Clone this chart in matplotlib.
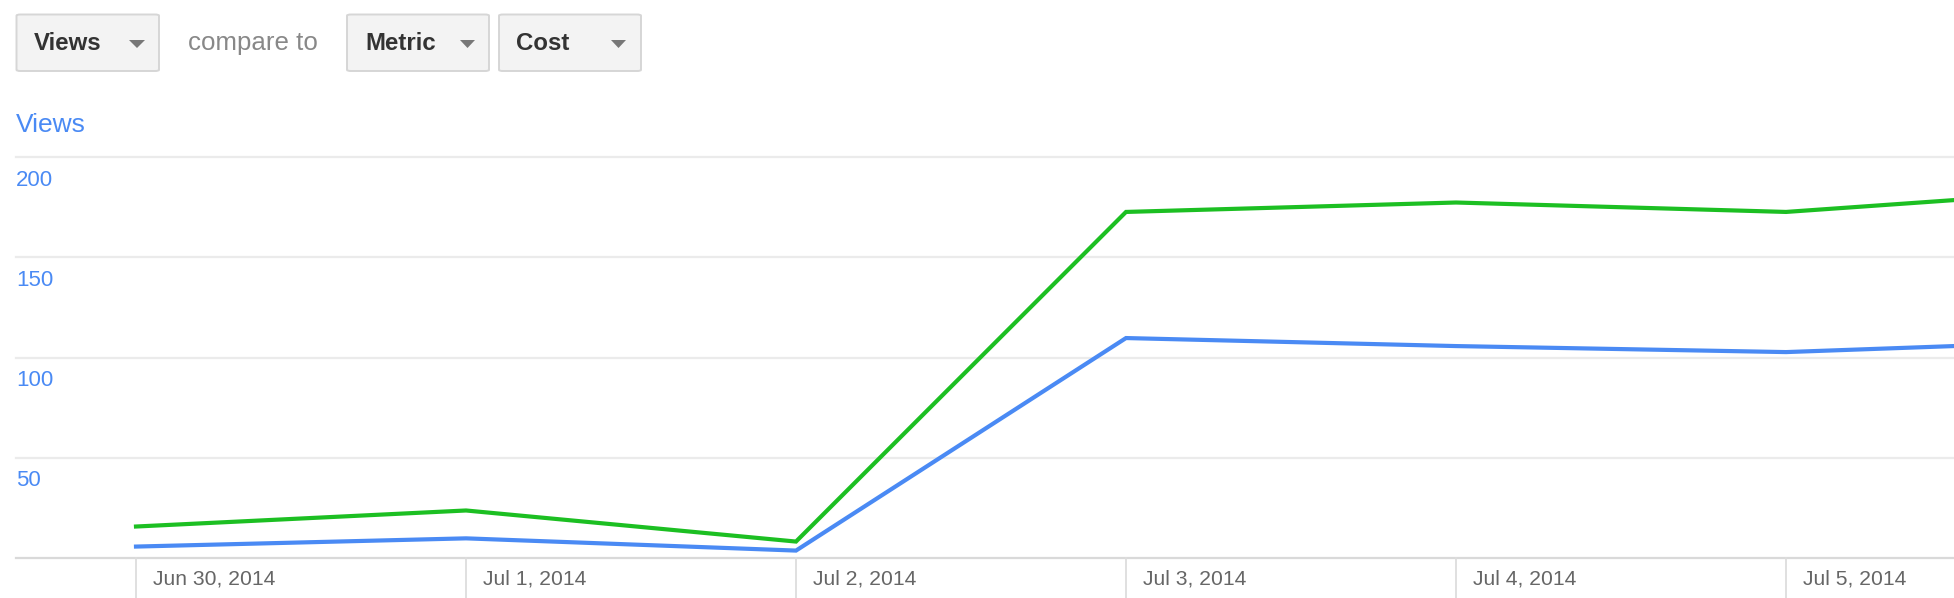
import matplotlib
matplotlib.use("Agg")
import matplotlib.pyplot as plt
from matplotlib.patches import FancyBboxPatch, Polygon

# ---- data ----
dates = ["Jun 30, 2014", "Jul 1, 2014", "Jul 2, 2014", "Jul 3, 2014",
         "Jul 4, 2014", "Jul 5, 2014", "Jul 6, 2014"]
views = [5.7, 9.8, 3.7, 109.7, 105.7, 102.7, 108.6]
cost = [15.7, 23.7, 8.2, 172.6, 177.3, 172.6, 184.2]
y_ticks = [50, 100, 150, 200]
tick_dates = dates[:6]
buttons = ["Views", "Metric", "Cost"]

BLUE = "#4a8af4"
GREEN = "#1cbf22"
GRID = "#ebebeb"

W, H = 1954, 598
fig = plt.figure(figsize=(W / 100, H / 100), dpi=100)
fig.patch.set_facecolor("white")
plt.rcParams["font.family"] = ["Liberation Sans", "DejaVu Sans"]

# axes in pixel coordinates
left_px, right_px, top_px, bot_px = 16, 1954, 157, 558
ax = fig.add_axes([left_px / W, (H - bot_px) / H, (right_px - left_px) / W,
                   (bot_px - top_px) / H])
ax.set_facecolor("none")
x0_px, step_px = 136, 330
ax.set_xlim((left_px - x0_px) / step_px, (right_px - x0_px) / step_px)
ax.set_ylim(0, 200)
for s in ax.spines.values():
    s.set_visible(False)
ax.set_xticks([])
ax.set_yticks([])

# gridlines
for v in y_ticks:
    ax.axhline(v, color=GRID, lw=1.6, zorder=1, clip_on=False)
ax.axhline(0, color="#d9d9d9", lw=1.6, zorder=1, clip_on=False)

xs = list(range(len(dates)))
ax.plot(xs, cost, color=GREEN, lw=3.0, zorder=3, solid_joinstyle="miter")
ax.plot(xs, views, color=BLUE, lw=3.0, zorder=4, solid_joinstyle="miter")

# y tick labels, sitting just below each gridline
for v in y_ticks:
    y_px = bot_px - (v / 200) * (bot_px - top_px) + 23
    fig.text(16 / W, 1 - y_px / H, str(v), color=BLUE, fontsize=16,
             ha="left", va="center")

# x tick marks and labels
for i, lab in enumerate(tick_dates):
    x_px = x0_px + i * step_px
    fig.add_artist(plt.Line2D([x_px / W, x_px / W], [0, (H - bot_px) / H],
                              color="#dddddd", lw=1.3))
    fig.text((x_px + 17) / W, 1 - 579 / H, lab, color="#666666",
             fontsize=15.2, ha="left", va="center")

# axis title
fig.text(16 / W, 1 - 125 / H, "Views", color=BLUE, fontsize=19,
         ha="left", va="center")

# top controls
btn_boxes = [(16.5, 159), (347, 489), (499, 641)]
text_x = [34, 365, 516]
tri_x = [(129, 145), (460, 475), (611, 626)]
by0, by1 = 14.5, 71
for lab, (bx0, bx1), tx, (t0, t1) in zip(buttons, btn_boxes, text_x, tri_x):
    box = FancyBboxPatch((bx0 / W, 1 - by1 / H), (bx1 - bx0) / W,
                         (by1 - by0) / H,
                         boxstyle="round,pad=0,rounding_size=0.002",
                         transform=fig.transFigure, facecolor="#f3f3f3",
                         edgecolor="#d6d6d6", lw=1.4)
    fig.add_artist(box)
    fig.text(tx / W, 1 - 43 / H, lab, color="#333333", fontsize=17.3,
             fontweight="bold", ha="left", va="center")
    tri = Polygon([(t0 / W, 1 - 40 / H), (t1 / W, 1 - 40 / H),
                   ((t0 + t1) / 2 / W, 1 - 48 / H)], closed=True,
                  transform=fig.transFigure, facecolor="#777777",
                  edgecolor="none")
    fig.add_artist(tri)

fig.text(188 / W, 1 - 43 / H, "compare to", color="#888888", fontsize=18.6,
         ha="left", va="center")

fig.savefig("out.png", dpi=100, facecolor="white")
